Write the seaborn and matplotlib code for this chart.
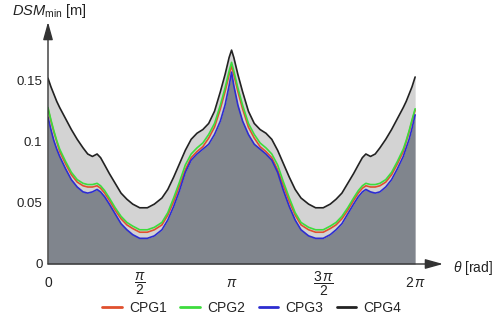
import numpy as np
import pandas as pd
import matplotlib
matplotlib.use('Agg')
import matplotlib.pyplot as plt
import seaborn as sns

# theta samples (rad): 0..pi, then pi..2*pi
theta_left = [0, 0.05, 0.1, 0.15, 0.2, 0.3, 0.4, 0.5, 0.6, 0.68, 0.76, 0.84, 0.9, 0.97,
              1.05, 1.15, 1.25, 1.35, 1.45, 1.57, 1.7, 1.82, 1.95, 2.05, 2.15, 2.25,
              2.35, 2.45, 2.55, 2.65, 2.75, 2.85, 2.95, 3.03, 3.1, 3.1416]
theta_right = [3.18, 3.25, 3.33, 3.43, 3.53, 3.63, 3.73, 3.83, 3.93, 4.03, 4.13, 4.23,
               4.33, 4.46, 4.58, 4.71, 4.83, 4.93, 5.03, 5.13, 5.23, 5.31, 5.38, 5.44,
               5.52, 5.60, 5.68, 5.78, 5.88, 5.98, 6.08, 6.13, 6.18, 6.23, 6.2832]

cpg1_left = [0.127, 0.117, 0.108, 0.100, 0.092, 0.082, 0.073, 0.067, 0.064, 0.063, 0.063,
             0.064, 0.062, 0.058, 0.052, 0.044, 0.037, 0.032, 0.029, 0.026, 0.026, 0.028,
             0.032, 0.040, 0.051, 0.064, 0.077, 0.087, 0.092, 0.096, 0.103, 0.112, 0.127,
             0.141, 0.155, 0.162]
cpg1_right = [0.155, 0.141, 0.127, 0.112, 0.103, 0.096, 0.092, 0.087, 0.077, 0.064, 0.051,
              0.040, 0.032, 0.028, 0.026, 0.026, 0.029, 0.032, 0.037, 0.044, 0.052, 0.058,
              0.062, 0.064, 0.063, 0.063, 0.064, 0.067, 0.073, 0.082, 0.092, 0.100, 0.108,
              0.117, 0.126]

cpg2_left = [0.128, 0.118, 0.109, 0.101, 0.094, 0.084, 0.075, 0.069, 0.066, 0.065, 0.065,
             0.066, 0.064, 0.060, 0.054, 0.046, 0.039, 0.034, 0.031, 0.028, 0.028, 0.030,
             0.034, 0.042, 0.054, 0.067, 0.081, 0.090, 0.095, 0.099, 0.106, 0.115, 0.130,
             0.144, 0.158, 0.165]
cpg2_right = [0.158, 0.144, 0.130, 0.115, 0.106, 0.099, 0.095, 0.090, 0.081, 0.067, 0.054,
              0.042, 0.034, 0.030, 0.028, 0.028, 0.031, 0.034, 0.039, 0.046, 0.054, 0.060,
              0.064, 0.066, 0.065, 0.065, 0.066, 0.069, 0.075, 0.084, 0.094, 0.101, 0.109,
              0.118, 0.127]

cpg3_left = [0.120, 0.110, 0.101, 0.094, 0.088, 0.078, 0.069, 0.063, 0.059, 0.058, 0.059,
             0.061, 0.059, 0.055, 0.049, 0.041, 0.033, 0.028, 0.024, 0.021, 0.021, 0.023,
             0.028, 0.036, 0.047, 0.060, 0.075, 0.085, 0.090, 0.094, 0.098, 0.106, 0.117,
             0.130, 0.146, 0.157]
cpg3_right = [0.146, 0.130, 0.117, 0.106, 0.098, 0.094, 0.090, 0.085, 0.075, 0.060, 0.047,
              0.036, 0.028, 0.023, 0.021, 0.021, 0.024, 0.028, 0.033, 0.041, 0.049, 0.055,
              0.059, 0.061, 0.059, 0.058, 0.059, 0.063, 0.069, 0.078, 0.088, 0.095, 0.102,
              0.111, 0.122]

cpg4_left = [0.152, 0.145, 0.139, 0.133, 0.128, 0.119, 0.110, 0.102, 0.095, 0.090, 0.088,
             0.090, 0.087, 0.081, 0.074, 0.066, 0.058, 0.053, 0.049, 0.046, 0.046, 0.049,
             0.054, 0.061, 0.071, 0.082, 0.093, 0.102, 0.107, 0.110, 0.115, 0.125, 0.141,
             0.155, 0.169, 0.175]
cpg4_right = [0.169, 0.155, 0.141, 0.125, 0.115, 0.110, 0.107, 0.102, 0.093, 0.082, 0.071,
              0.061, 0.054, 0.049, 0.046, 0.046, 0.049, 0.053, 0.058, 0.066, 0.074, 0.081,
              0.087, 0.090, 0.088, 0.090, 0.095, 0.102, 0.110, 0.119, 0.128, 0.133, 0.139,
              0.145, 0.153]

names = ['CPG1', 'CPG2', 'CPG3', 'CPG4']
colors = {'CPG1': '#e0502e', 'CPG2': '#3ddc3d', 'CPG3': '#2d2dd0', 'CPG4': '#222222'}

xticks = [0, np.pi / 2, np.pi, 3 * np.pi / 2, 2 * np.pi]
xlabels = ['0', r'$\dfrac{\pi}{2}$', r'$\pi$', r'$\dfrac{3\,\pi}{2}$', r'$2\,\pi$']
yticks = [0, 0.05, 0.1, 0.15]
ylabels = ['0', '0.05', '0.1', '0.15']

theta = theta_left + theta_right
series = {
    'CPG1': cpg1_left + cpg1_right,
    'CPG2': cpg2_left + cpg2_right,
    'CPG3': cpg3_left + cpg3_right,
    'CPG4': cpg4_left + cpg4_right,
}
df = pd.DataFrame({
    'theta': theta * 4,
    'dsm': sum((series[n] for n in names), []),
    'series': [n for n in names for _ in theta],
})

sns.set_style('white')
plt.rcParams['font.family'] = ['Liberation Sans', 'DejaVu Sans']
plt.rcParams['mathtext.fontset'] = 'custom'
plt.rcParams['mathtext.rm'] = 'Liberation Sans'
plt.rcParams['mathtext.it'] = 'Liberation Sans:italic'

fig = plt.figure(figsize=(5.03, 3.22), dpi=100)
ax = fig.add_axes([48 / 503, 58 / 322, 395 / 503, 242 / 322])

# shaded regions
ax.fill_between(theta, series['CPG3'], series['CPG4'], color='#d3d3d3', lw=0, zorder=1)
ax.fill_between(theta, 0, series['CPG3'], color='#80858d', lw=0, zorder=1)

sns.lineplot(data=df, x='theta', y='dsm', hue='series', hue_order=names,
             palette=colors, linewidth=1.2, ax=ax, zorder=3)

ax.set_xlim(0, 6.76)
ax.set_ylim(0, 0.198)
ax.set_xlabel('')
ax.set_ylabel('')
for s in ax.spines.values():
    s.set_visible(False)

# axes with arrow heads
arrow = dict(arrowstyle='-|>,head_length=0.9,head_width=0.25', color='#333333',
             lw=1.0, shrinkA=0, shrinkB=0, mutation_scale=12)
ax.annotate('', xy=(1, 0), xytext=(0, 0), xycoords='axes fraction', arrowprops=arrow)
ax.annotate('', xy=(0, 1), xytext=(0, 0), xycoords='axes fraction', arrowprops=arrow)

ax.set_yticks(yticks, ylabels)
ax.set_xticks(xticks, xlabels)
ax.tick_params(axis='y', direction='in', length=3, width=0.8, color='#444444',
               labelsize=9.5, pad=4, labelcolor='#222222')
ax.tick_params(axis='x', direction='in', length=2, width=0.8, color='#444444',
               labelsize=10, pad=14, labelcolor='#222222')
for lab in ax.get_xticklabels():
    lab.set_va('center')

fig.text(12 / 503, 1 - 11 / 322, r'$DSM_{\mathrm{min}}$ [m]', fontsize=10.5,
         ha='left', va='center', color='#222222')
fig.text(453 / 503, 1 - 268 / 322, r'$\theta$ [rad]', fontsize=10,
         ha='left', va='center', color='#222222')

sns.move_legend(ax, 'center', bbox_to_anchor=(0.516, -0.18), ncol=4, frameon=False,
                title=None, fontsize=10, handlelength=1.4, columnspacing=1.0,
                handletextpad=0.5)
for line in ax.get_legend().get_lines():
    line.set_linewidth(2)

fig.savefig('out.png', dpi=100)
